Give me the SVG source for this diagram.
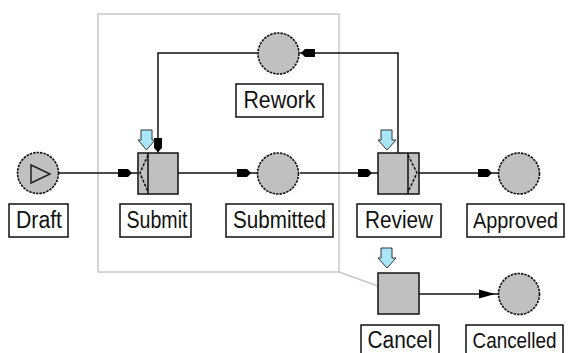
<svg xmlns="http://www.w3.org/2000/svg" width="568" height="353" viewBox="0 0 568 353">
<style>
.place{fill:#c0c0c0;stroke:#111;stroke-width:1.6;stroke-dasharray:2.5 1}
.trans{fill:#c0c0c0;stroke:#111;stroke-width:1.5}
.lbl{fill:#fff;stroke:#111;stroke-width:1.5}
.txt{font-family:"Liberation Sans",Arial,sans-serif;font-size:23px;fill:#111;text-anchor:middle}
.sm{font-size:21.5px}
.conn{fill:none;stroke:#111;stroke-width:1.5}
.gate{fill:none;stroke:#111;stroke-width:1.5;stroke-dasharray:3 1.5}
.trig{fill:#a8e6f8;stroke:#333;stroke-width:1}
</style>
<defs>
<marker id="ah" markerUnits="userSpaceOnUse" markerWidth="22" markerHeight="10" refX="20" refY="4" orient="auto" overflow="visible">
<path d="M0,0 L10,0 L14,4 L10,8 L0,8 Z" fill="#000"/>
</marker>
<marker id="tri" markerUnits="userSpaceOnUse" markerWidth="22" markerHeight="10" refX="19" refY="4.5" orient="auto" overflow="visible">
<path d="M0,0 L16,4.5 L0,9 Z" fill="#000"/>
</marker>
<marker id="ahs" markerUnits="userSpaceOnUse" markerWidth="22" markerHeight="10" refX="15" refY="4" orient="auto" overflow="visible">
<path d="M0,0 L10,0 L14,4 L10,8 L0,8 Z" fill="#000"/>
</marker>
</defs>
<rect width="568" height="353" fill="#fff"/>
<g id="region">
<path d="M98,14 H339 V272 H98 Z" fill="none" stroke="#c8c8c8" stroke-width="1.5"/>
<path d="M339,272 L378,286" fill="none" stroke="#c8c8c8" stroke-width="1.5"/>
</g>
<g id="connectors">
<path class="conn" d="M59,173 H138" marker-end="url(#ah)"/>
<path class="conn" d="M178,173 H257" marker-end="url(#ah)"/>
<path class="conn" d="M300,173 H378" marker-end="url(#ah)"/>
<path class="conn" d="M419,173 H498" marker-end="url(#ah)"/>
<path class="conn" d="M398,153 V53 H300" marker-end="url(#ahs)"/>
<path class="conn" d="M257,53 H158 V153" marker-end="url(#ahs)"/>
<path class="conn" d="M419,294 H498" marker-end="url(#tri)"/>
</g>
<g id="draft">
<circle class="place" cx="38" cy="173" r="20.5"/>
<polygon points="31,165 50,174 31,183" fill="none" stroke="#222" stroke-width="1.5"/>
<rect class="lbl" x="9" y="204" width="59" height="33"/>
<text class="txt" x="39" y="228" textLength="46" lengthAdjust="spacingAndGlyphs">Draft</text>
</g>
<g id="submit">
<rect class="trans" x="138" y="153" width="40" height="41"/>
<line x1="148" y1="153" x2="148" y2="194" stroke="#111" stroke-width="1.5"/>
<polyline class="gate" points="148,155 140,173 148,192"/>
<polygon class="trig" points="141,130 152,130 152,140 155,140 146.5,150 138,140 141,140"/>
<rect class="lbl" x="120" y="204" width="71" height="33"/>
<text class="txt" x="157" y="228" textLength="61" lengthAdjust="spacingAndGlyphs">Submit</text>
</g>
<g id="submitted">
<circle class="place" cx="278" cy="173.5" r="20.5"/>
<rect class="lbl" x="226" y="204" width="107" height="33"/>
<text class="txt" x="279.5" y="228" textLength="93" lengthAdjust="spacingAndGlyphs">Submitted</text>
</g>
<g id="rework">
<circle class="place" cx="278.5" cy="53.5" r="20.5"/>
<rect class="lbl" x="236" y="84" width="87" height="33"/>
<text class="txt" x="279.5" y="108" textLength="72" lengthAdjust="spacingAndGlyphs">Rework</text>
</g>
<g id="review">
<rect class="trans" x="378" y="153" width="41" height="41"/>
<line x1="408" y1="153" x2="408" y2="194" stroke="#111" stroke-width="1.5"/>
<polyline class="gate" points="408,155 417,173 408,192"/>
<polygon class="trig" points="381,130 392,130 392,140 396,140 387,150 378,140 381,140"/>
<rect class="lbl" x="357" y="204" width="84" height="33"/>
<text class="txt" x="399" y="228" textLength="68" lengthAdjust="spacingAndGlyphs">Review</text>
</g>
<g id="approved">
<circle class="place" cx="519" cy="173.5" r="20.5"/>
<rect class="lbl" x="467" y="204" width="97" height="33"/>
<text class="txt sm" x="515.5" y="228" textLength="85" lengthAdjust="spacingAndGlyphs">Approved</text>
</g>
<g id="cancel">
<rect class="trans" x="378" y="273" width="41" height="41"/>
<polygon class="trig" points="381,248 392,248 392,258 396,258 387,268 378,258 381,258"/>
<rect class="lbl" x="361" y="325" width="78" height="33"/>
<text class="txt" x="400" y="348" textLength="65" lengthAdjust="spacingAndGlyphs">Cancel</text>
</g>
<g id="cancelled">
<circle class="place" cx="519" cy="294" r="20.5"/>
<rect class="lbl" x="466" y="325" width="97" height="33"/>
<text class="txt sm" x="514.5" y="348" textLength="84" lengthAdjust="spacingAndGlyphs">Cancelled</text>
</g>
</svg>
